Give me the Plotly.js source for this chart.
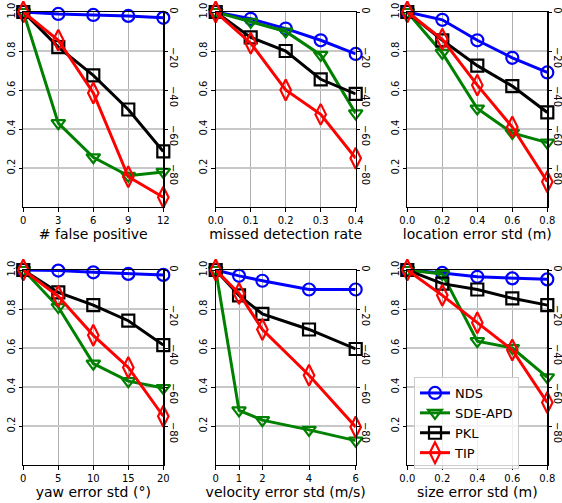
<!DOCTYPE html>
<html>
<head>
<meta charset="utf-8">
<script src="https://cdn.plot.ly/plotly-3.0.1.min.js"></script>
<style>html,body{margin:0;padding:0;background:#fff;}#chart{width:562px;height:503px;}</style>
</head>
<body>
<div id="chart"></div>
<script>
// ---- data ----
const seriesNames = ['NDS', 'SDE-APD', 'PKL', 'TIP'];
const xTitles = ['# false positive', 'missed detection rate', 'location error std (m)',
                 'yaw error std (°)', 'velocity error std (m/s)', 'size error std (m)'];
const xFalsePos = [0, 3, 6, 9, 12];
const xMissed = [0, 0.1, 0.2, 0.3, 0.4];
const xLocation = [0, 0.2, 0.4, 0.6, 0.8];
const xYaw = [0, 5, 10, 15, 20];
const xVelocity = [0, 1, 2, 4, 6];
const xSize = [0, 0.2, 0.4, 0.6, 0.8];
const xValues = [xFalsePos, xMissed, xLocation, xYaw, xVelocity, xSize];

const xTickVals = [[0, 3, 6, 9, 12], [0, 0.1, 0.2, 0.3, 0.4], [0, 0.2, 0.4, 0.6, 0.8],
                   [0, 5, 10, 15, 20], [0, 1, 2, 4, 6], [0, 0.2, 0.4, 0.6, 0.8]];
const xTickText = [['0', '3', '6', '9', '12'], ['0.0', '0.1', '0.2', '0.3', '0.4'],
                   ['0.0', '0.2', '0.4', '0.6', '0.8'], ['0', '5', '10', '15', '20'],
                   ['0', '1', '2', '4', '6'], ['0.0', '0.2', '0.4', '0.6', '0.8']];
const xRanges = [[0, 12], [0, 0.4], [0, 0.8], [0, 20], [0, 6], [0, 0.8]];

// values per panel (false positive, missed, location, yaw, velocity, size)
const ndsValues = [
  [1.0, 0.99, 0.985, 0.98, 0.97],
  [1.0, 0.965, 0.915, 0.855, 0.785],
  [1.0, 0.96, 0.855, 0.765, 0.69],
  [1.0, 0.997, 0.988, 0.98, 0.975],
  [1.0, 0.97, 0.945, 0.9, 0.9],
  [1.0, 0.985, 0.965, 0.957, 0.952]
];
const sdeValues = [
  [1.0, 0.43, 0.255, 0.16, 0.18],
  [1.0, 0.95, 0.9, 0.78, 0.48],
  [1.0, 0.79, 0.505, 0.38, 0.33],
  [1.0, 0.81, 0.52, 0.43, 0.395],
  [1.0, 0.28, 0.23, 0.18, 0.125],
  [1.0, 0.98, 0.635, 0.6, 0.45]
];
const pklValues = [
  [1.0, 0.82, 0.675, 0.5, 0.285],
  [1.0, 0.87, 0.8, 0.655, 0.58],
  [1.0, 0.855, 0.725, 0.62, 0.485],
  [1.0, 0.885, 0.82, 0.74, 0.615],
  [1.0, 0.87, 0.775, 0.695, 0.595],
  [1.0, 0.93, 0.9, 0.855, 0.82]
];
const tipValues = [
  [1.0, 0.855, 0.585, 0.155, 0.05],
  [1.0, 0.84, 0.6, 0.475, 0.25],
  [1.0, 0.86, 0.625, 0.41, 0.13],
  [1.0, 0.865, 0.665, 0.5, 0.25],
  [1.0, 0.88, 0.695, 0.46, 0.195],
  [1.0, 0.87, 0.73, 0.59, 0.32]
];
const leftTickVals = [0.2, 0.4, 0.6, 0.8, 1.0];
const leftTickText = ['0.2', '0.4', '0.6', '0.8', '1.0'];
const rightTickVals = [0, -20, -40, -60, -80];
const rightTickText = ['0', '\u221220', '\u221240', '\u221260', '\u221280'];

// ---- styles ----
const allValues = [ndsValues, sdeValues, pklValues, tipValues];
const colors = ['#0000ff', '#008000', '#000000', '#ff0000'];
const symbols = ['circle-open', 'triangle-down-open', 'square-open', 'diamond-tall-open'];
const msizes = [12, 12, 12, 15];
const PAD = '\u00a0\u00a0\u00a0\u00a0\u00a0';
const rightTickLabels = rightTickText.map(t => t.length > 1 ? PAD + t : t);

const W = 562, H = 503;
const xDomains = [[23.3, 163.3], [215.7, 355.7], [407.3, 547.3]].map(d => [d[0] / W, d[1] / W]);
const yDomains = [[12, 207], [270, 465]].map(d => [1 - d[1] / H, 1 - d[0] / H]);

const traces = [];
const layout = {
  width: W, height: H,
  margin: {l: 0, r: 0, t: 0, b: 0},
  paper_bgcolor: '#fff', plot_bgcolor: '#fff',
  font: {family: 'DejaVu Sans', size: 10, color: '#000'},
  showlegend: true,
  legend: {
    x: 414 / W, y: 1 - 377 / H, xanchor: 'left', yanchor: 'top',
    bgcolor: 'rgba(255,255,255,0.8)', bordercolor: '#cccccc', borderwidth: 1,
    font: {family: 'DejaVu Sans', size: 13, color: '#000'},
    itemwidth: 30, tracegroupgap: 0
  }
};

for (let p = 0; p < 6; p++) {
  const col = p % 3, row = Math.floor(p / 3);
  const xa = 'x' + (p + 1), ya = 'y' + (p + 1), yr = 'y' + (p + 7);
  const xk = 'xaxis' + (p + 1), yk = 'yaxis' + (p + 1), yrk = 'yaxis' + (p + 7);
  for (let s = 0; s < 4; s++) {
    traces.push({
      type: 'scatter', mode: 'lines+markers',
      x: xValues[p], y: allValues[s][p],
      xaxis: xa, yaxis: ya,
      name: seriesNames[s], legendgroup: seriesNames[s],
      showlegend: p === 5,
      line: {color: colors[s], width: 3},
      marker: {symbol: symbols[s], size: msizes[s], color: colors[s], line: {width: 2.2, color: colors[s]}},
      cliponaxis: false
    });
  }
  // empty placeholder on right axis so it is drawn
  traces.push({type: 'scatter', mode: 'lines', x: [], y: [], xaxis: xa, yaxis: yr, showlegend: false, hoverinfo: 'skip'});

  layout[xk] = {
    domain: xDomains[col], anchor: ya, range: xRanges[p],
    tickmode: 'array', tickvals: xTickVals[p], ticktext: xTickText[p],
    showline: true, linecolor: '#000', linewidth: 1.2, mirror: true,
    ticks: 'outside', ticklen: 3.5, tickwidth: 1, tickcolor: '#000',
    showgrid: true, gridcolor: '#b0b0b0', gridwidth: 1,
    zeroline: false, automargin: false,
    tickfont: {size: 10, color: '#000'},
    title: {text: xTitles[p], font: {size: 14, color: '#000'}, standoff: 4}
  };
  layout[yk] = {
    domain: yDomains[row], anchor: xa, range: [0, 1],
    tickmode: 'array', tickvals: leftTickVals, ticktext: leftTickText,
    showline: true, linecolor: '#000', linewidth: 1.2,
    ticks: 'outside', ticklen: 3.5, tickwidth: 1, tickcolor: '#000',
    tickangle: -90,
    showgrid: true, gridcolor: '#c8c8c8', gridwidth: 1.5,
    zeroline: false, automargin: false,
    tickfont: {size: 10, color: '#000'}
  };
  layout[yrk] = {
    overlaying: ya, anchor: xa, side: 'right', range: [-100, 0],
    tickmode: 'array', tickvals: rightTickVals, ticktext: rightTickLabels,
    showline: true, linecolor: '#000', linewidth: 1.2,
    ticks: 'outside', ticklen: 3.5, tickwidth: 1, tickcolor: '#000',
    tickangle: 90, ticklabelstandoff: -2,
    showgrid: false, zeroline: false, automargin: false,
    tickfont: {size: 10, color: '#000'}
  };
}

Plotly.newPlot('chart', traces, layout, {staticPlot: true, displayModeBar: false});
</script>
</body>
</html>
